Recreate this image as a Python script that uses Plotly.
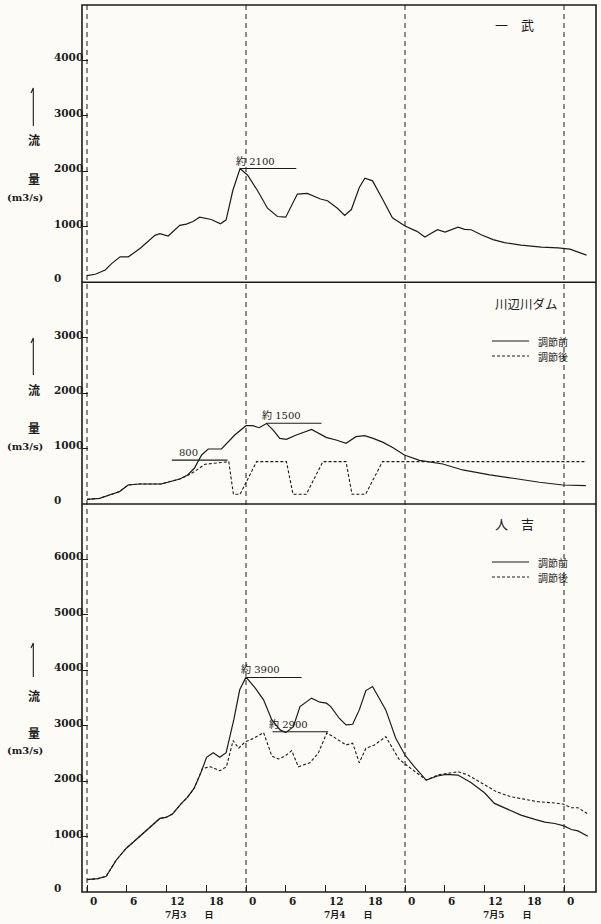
import plotly.graph_objects as go

# ---------------- data (hours from 7/3 0:00, discharge m3/s) ----------------
ichibu_h = [0, 1.25, 2.75, 3.75, 5, 6.25, 8, 10.25, 11, 12.25, 14, 15, 16, 17, 18.75, 20.15, 21, 22, 23.1,
            24.25, 25.75, 27.25, 28.75, 30, 31.75, 33.25, 35.25, 36.3, 37.8, 38.9, 39.9, 41.1, 41.95, 43.1,
            44.6, 46.1, 48, 49.8, 51, 52.9, 54.05, 56, 57, 58, 59.5, 61.3, 63, 65.5, 68.6, 71.1, 72.9, 74.1, 75.4]
ichibu_q = [120, 143, 220, 339, 458, 458, 607, 845, 875, 833, 1024, 1048, 1095, 1173, 1131, 1054, 1125, 1649, 2048,
            1929, 1649, 1334, 1185, 1173, 1590, 1601, 1500, 1470, 1334, 1203, 1310, 1708, 1875, 1828,
            1500, 1161, 1012, 917, 816, 946, 905, 994, 952, 946, 857, 768, 714, 667, 631, 619, 595, 548, 488]

kawabe_h = [0, 1.9, 3.4, 4.9, 6.2, 7.9, 11.2, 12.5, 14, 15.2, 16.2, 17.3, 18.3, 20.3, 22.3, 24, 25, 26, 27.1,
            28.1, 29.1, 30.1, 31.6, 33.9, 36.1, 37.6, 39.1, 40.6, 41.9, 43.2, 44.7, 46.2, 47.9, 50.2, 51.7,
            53.7, 56.7, 60.8, 64.3, 68.3, 71.8, 75.3]
kawabe_before = [84, 102, 162, 222, 342, 360, 360, 402, 450, 523, 643, 883, 991, 991, 1243, 1411, 1411, 1375, 1453,
                 1333, 1183, 1165, 1243, 1345, 1201, 1153, 1093, 1213, 1231, 1183, 1111, 1015, 883, 787, 763,
                 721, 613, 523, 463, 391, 342, 330]
kawabe_after_h = [0, 1.9, 3.4, 4.9, 6.2, 7.9, 11.2, 12.5, 14, 15.2, 16.2, 17.8, 19, 21, 21.4, 22.1, 23.1, 25.6,
                  30.1, 31.1, 33.1, 35.6, 39.1, 40, 42.05, 44.6, 75.3]
kawabe_after = [84, 102, 162, 222, 342, 360, 360, 402, 450, 515, 583, 715, 733, 751, 763, 174, 174, 763,
                763, 174, 174, 763, 763, 174, 174, 763, 763]

hito_h = [0, 1.65, 2.9, 4.4, 5.9, 7.9, 9.4, 11, 11.9, 12.9, 14.15, 15.15, 16.15, 17.15, 18.05, 19.05, 20.05, 21,
          22.15, 23.05, 24, 25.4, 26.65, 27.9, 29.15, 30, 31.15, 32.15, 33.9, 35.15, 36.15, 36.8, 38.1, 39.1,
          40.1, 41.1, 42.1, 43.1, 45.1, 46.6, 48, 49.4, 51.2, 52.9, 54.2, 56, 58, 60, 61.5, 63.5, 65.5, 67.6,
          69.1, 70.6, 72, 73.1, 74.1, 75.6]
hito_before = [224, 242, 284, 573, 785, 995, 1146, 1327, 1345, 1405, 1586, 1706, 1869, 2140, 2430, 2513, 2430, 2513,
               3104, 3647, 3876, 3677, 3466, 3104, 2924, 2875, 2983, 3345, 3497, 3424, 3406, 3345, 3130, 3014,
               3026, 3285, 3634, 3706, 3285, 2773, 2471, 2260, 2019, 2092, 2122, 2110, 1971, 1790, 1598, 1490,
               1387, 1309, 1260, 1236, 1193, 1128, 1103, 1007]
hito_after_h = [0, 1.65, 2.9, 4.4, 5.9, 7.9, 9.4, 11, 11.9, 12.9, 14.15, 15.15, 16.15, 16.4, 17.4, 18.65, 20.05,
                21.05, 22.05, 22.9, 23.65, 24, 25.15, 26.65, 27.9, 28.9, 29.9, 30.9, 31.9, 33.65, 34.9, 36.2,
                37.2, 38.2, 39.1, 40.1, 41.1, 42.1, 43.4, 45.1, 46.1, 47.1, 48.4, 49.9, 51.2, 52.9, 54.2, 56,
                57.5, 60, 61.8, 64, 66.05, 68.1, 70.3, 71.85, 73.1, 74.1, 75.5]
hito_after = [224, 242, 284, 573, 785, 995, 1146, 1327, 1345, 1405, 1586, 1706, 1869, 1929, 2225, 2260, 2188,
              2260, 2730, 2593, 2683, 2713, 2773, 2875, 2453, 2399, 2453, 2549, 2260, 2332, 2502, 2870,
              2800, 2715, 2652, 2683, 2332, 2593, 2652, 2802, 2593, 2394, 2273, 2140, 2019, 2110, 2140, 2170,
              2110, 1929, 1808, 1718, 1670, 1627, 1609, 1586, 1519, 1519, 1417]

# peak marker lines: (label, start hour, end hour, value, label start hour)
ichibu_peaks = [("約 2100", 23.1, 31.6, 2050, 22.2)]
kawabe_peaks = [("800", 12.8, 21.2, 790, 13.6), ("約 1500", 27.1, 35.4, 1455, 26.1)]
hito_peaks = [("約 3900", 24.0, 32.4, 3870, 23.0), ("約 2900", 28.0, 36.4, 2890, 27.1)]

day_lines = [0, 24, 48, 72]
x_tick_vals = [0, 6, 12, 18, 24, 30, 36, 42, 48, 54, 60, 66, 72]
x_tick_text = ["0", "6", "12", "18", "0", "6", "12", "18", "0", "6", "12", "18", "0"]
date_hours = [15.4, 39.4, 63.4]
date_text = ["7月3　　日", "7月4　　日", "7月5　　日"]

top_ticks = [0, 1000, 2000, 3000, 4000]
mid_ticks = [0, 1000, 2000, 3000]
bot_ticks = [0, 1000, 2000, 3000, 4000, 5000, 6000]

# ---------------- layout helpers ----------------
W, H = 601, 924
ML, MR, MT, MB = 82, 5, 5, 32
PW = W - ML - MR
PH = H - MT - MB


def px_x(px):
    return (px - ML) / PW


def px_y(py):
    return (H - MB - py) / PH


INK = "#1c1c1c"
BG = "#fcfbf6"
NUM_FONT = dict(family="DejaVu Serif", size=10.5, color=INK)
CJK = "Noto Sans CJK JP"

fig = go.Figure()

fig.add_trace(go.Scatter(x=ichibu_h, y=ichibu_q, mode="lines", yaxis="y3",
                         line=dict(color=INK, width=1.2), showlegend=False))
fig.add_trace(go.Scatter(x=kawabe_h, y=kawabe_before, mode="lines", yaxis="y2",
                         line=dict(color=INK, width=1.2), showlegend=False))
fig.add_trace(go.Scatter(x=kawabe_after_h, y=kawabe_after, mode="lines", yaxis="y2",
                         line=dict(color=INK, width=1.1, dash="3px,2px"), showlegend=False))
fig.add_trace(go.Scatter(x=hito_h, y=hito_before, mode="lines", yaxis="y",
                         line=dict(color=INK, width=1.2), showlegend=False))
fig.add_trace(go.Scatter(x=hito_after_h, y=hito_after, mode="lines", yaxis="y",
                         line=dict(color=INK, width=1.1, dash="3px,2px"), showlegend=False))

shapes = []
annotations = []


def note(text, x, y, xanchor="center", yanchor="middle", **kw):
    d = dict(text=text, x=x, y=y, xref=kw.pop("xref", "paper"), yref=kw.pop("yref", "paper"),
             xanchor=xanchor, yanchor=yanchor, showarrow=False)
    d.update(kw)
    annotations.append(d)


# vertical day lines
for d in day_lines:
    shapes.append(dict(type="line", xref="x", yref="paper", x0=d, x1=d, y0=0, y1=1,
                       line=dict(color=INK, width=1, dash="5px,4px"), layer="below"))
# frame and dividers
shapes.append(dict(type="rect", xref="paper", yref="paper", x0=0, x1=1, y0=0, y1=1,
                   line=dict(color=INK, width=1.6)))
for yy in [7 / 16, 11 / 16]:
    shapes.append(dict(type="line", xref="paper", yref="paper", x0=0, x1=1, y0=yy, y1=yy,
                       line=dict(color=INK, width=1.4)))

# peak lines + labels
for peaks, yref in [(ichibu_peaks, "y3"), (kawabe_peaks, "y2"), (hito_peaks, "y")]:
    for label, h0, h1, v, lh in peaks:
        shapes.append(dict(type="line", xref="x", yref=yref, x0=h0, x1=h1, y0=v, y1=v,
                           line=dict(color=INK, width=1.1)))
        note(label, lh, v, xanchor="left", xref="x", yref=yref, yshift=8,
             font=dict(family="DejaVu Serif, " + CJK, size=10, color=INK))

# y tick labels (left aligned like the original)
for ticks, yref in [(top_ticks, "y3"), (mid_ticks, "y2"), (bot_ticks, "y")]:
    for t in ticks:
        note(f"<b>{t}</b>", px_x(52), t, xanchor="left", yref=yref,
             yshift=4 if t == 0 else 3, font=NUM_FONT)

# x tick labels
for v, t in zip(x_tick_vals, x_tick_text):
    note(f"<b>{t}</b>", v, 0, xanchor="left", xref="x", xshift=1, yshift=-9, font=NUM_FONT)
for v, t in zip(date_hours, date_text):
    note(f"<b>{t}</b>", v, 0, xref="x", yshift=-23,
         font=dict(family="DejaVu Serif, " + CJK, size=9, color=INK))

# y axis titles (vertical arrow line, 流, 量, (m3/s)) for each panel
for top, bot, ry, rq, un in [(88, 126, 140, 178, 197), (338, 375, 390, 427, 446), (643, 677, 695, 732, 750)]:
    shapes.append(dict(type="path", xref="paper", yref="paper",
                       path=f"M {px_x(31)},{px_y(top + 5)} L {px_x(33.3)},{px_y(top)} L {px_x(33.3)},{px_y(bot)}",
                       line=dict(color=INK, width=1.1)))
    note("<b>流</b>", px_x(34), px_y(ry), font=dict(family=CJK, size=12, color=INK))
    note("<b>量</b>", px_x(34), px_y(rq), font=dict(family=CJK, size=12, color=INK))
    note("<b>(m3/s)</b>", px_x(25), px_y(un), font=dict(family="DejaVu Serif", size=10, color=INK))

# panel titles
note("一　武", px_x(493), px_y(25), xanchor="left", font=dict(family=CJK, size=13, color=INK))
note("川辺川ダム", px_x(493), px_y(303), xanchor="left", font=dict(family=CJK, size=12.5, color=INK))
note("人　吉", px_x(493), px_y(523), xanchor="left", font=dict(family=CJK, size=13, color=INK))

# legends (middle and bottom panels)
for y1, y2 in [(341, 356), (562, 577)]:
    shapes.append(dict(type="line", xref="paper", yref="paper", x0=px_x(492), x1=px_x(529),
                       y0=px_y(y1), y1=px_y(y1), line=dict(color=INK, width=1.2)))
    shapes.append(dict(type="line", xref="paper", yref="paper", x0=px_x(492), x1=px_x(529),
                       y0=px_y(y2), y1=px_y(y2), line=dict(color=INK, width=1.1, dash="3px,2px")))
    note("調節前", px_x(536), px_y(y1), xanchor="left", font=dict(family=CJK, size=10, color=INK))
    note("調節後", px_x(536), px_y(y2), xanchor="left", font=dict(family=CJK, size=10, color=INK))

axis_common = dict(showgrid=False, zeroline=False, showline=False, showticklabels=False,
                   ticks="inside", ticklen=6, tickcolor=INK, tickwidth=1.2, fixedrange=True)

fig.update_layout(
    width=W, height=H,
    margin=dict(l=ML, r=MR, t=MT, b=MB, pad=0),
    paper_bgcolor=BG, plot_bgcolor=BG,
    showlegend=False,
    xaxis=dict(range=[-0.755, 76.83], domain=[0, 1], anchor="y", tickvals=x_tick_vals,
               **{**axis_common, "ticklen": 7}),
    yaxis=dict(range=[0, 7000], domain=[0, 7 / 16], anchor="x", tickvals=bot_ticks, **axis_common),
    yaxis2=dict(range=[0, 4000], domain=[7 / 16, 11 / 16], anchor="x", tickvals=mid_ticks, **axis_common),
    yaxis3=dict(range=[0, 5000], domain=[11 / 16, 1], anchor="x", tickvals=top_ticks, **axis_common),
    shapes=shapes,
    annotations=annotations,
)

fig.write_html("out.html")
